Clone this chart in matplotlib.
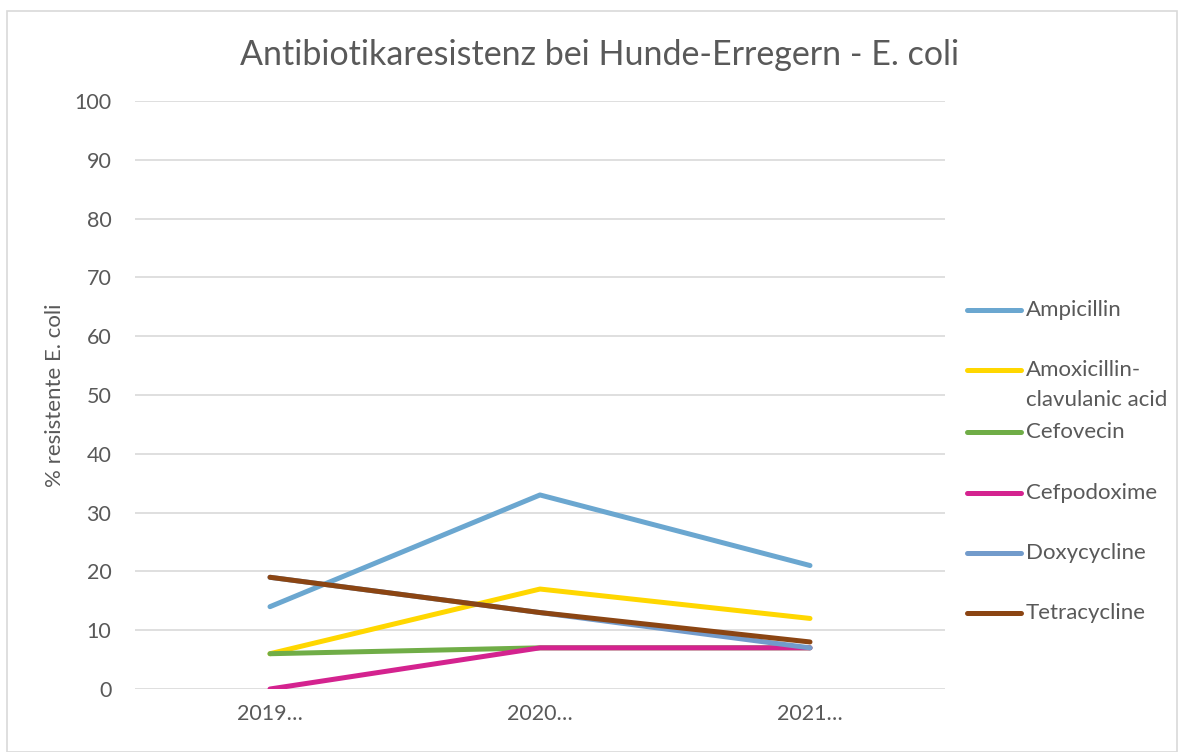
import matplotlib
matplotlib.use("Agg")
import matplotlib.pyplot as plt
from matplotlib.lines import Line2D
from matplotlib.patches import Rectangle

plt.rcParams['font.family'] = ['Lato', 'DejaVu Sans']

categories = ["2019…", "2020…", "2021…"]
series_names = ["Ampicillin", "Amoxicillin-\nclavulanic acid", "Cefovecin",
                "Cefpodoxime", "Doxycycline", "Tetracycline"]
ampicillin = [14, 33, 21]
amoxicillin_clav = [6, 17, 12]
cefovecin = [6, 7, 7]
cefpodoxime = [0, 7, 7]
doxycycline = [19, 13, 7]
tetracycline = [19, 13, 8]
yticks = [0, 10, 20, 30, 40, 50, 60, 70, 80, 90, 100]

values = [ampicillin, amoxicillin_clav, cefovecin, cefpodoxime, doxycycline, tetracycline]
colors = ["#6BA7D0", "#FFD700", "#70AD47", "#D4238F", "#729BCB", "#8B4513"]

W, H = 1180, 752
fig = plt.figure(figsize=(W / 100, H / 100), dpi=100)
fig.patches.append(Rectangle((7 / W, 0), (1177 - 7) / W, 1 - 11 / H,
                             transform=fig.transFigure, fill=False,
                             edgecolor="#d9d9d9", linewidth=1.2))

ax = fig.add_axes([135 / W, 1 - 689 / H, (945 - 135) / W, (689 - 101) / H])
x = list(range(len(categories)))
for vals, col, name in zip(values, colors, series_names):
    ax.plot(x, vals, color=col, linewidth=3.6, solid_capstyle="round", label=name)

ax.set_xlim(-0.5, len(categories) - 0.5)
ax.set_ylim(0, 100)
ax.set_yticks(yticks)
ax.set_xticks(x)
ax.set_xticklabels(categories)
ax.tick_params(axis="both", length=0, labelsize=15.5, labelcolor="#595959")
ax.tick_params(axis="y", pad=17)
ax.tick_params(axis="x", pad=11)
ax.grid(axis="y", color="#d9d9d9", linewidth=1.2)
ax.set_axisbelow(True)
for s in ax.spines.values():
    s.set_visible(False)
ax.set_ylabel("% resistente E. coli", fontsize=16, color="#595959", labelpad=7)

fig.text(600 / W, 1 - 55 / H, "Antibiotikaresistenz bei Hunde-Erregern - E. coli",
         ha="center", va="center", fontsize=24.5, color="#595959")

# legend
leg_y = [310, 370, 432, 493, 553, 613]
for name, col, yy in zip(series_names, colors, leg_y):
    fig.add_artist(Line2D([967 / W, 1021 / W], [1 - yy / H, 1 - yy / H],
                          transform=fig.transFigure, color=col, linewidth=3.6,
                          solid_capstyle="round"))
    for i, part in enumerate(name.split("\n")):
        fig.text(1026 / W, 1 - (yy + 30 * i) / H, part, ha="left", va="center",
                 fontsize=16, color="#595959")

fig.savefig("out.png", dpi=100)
